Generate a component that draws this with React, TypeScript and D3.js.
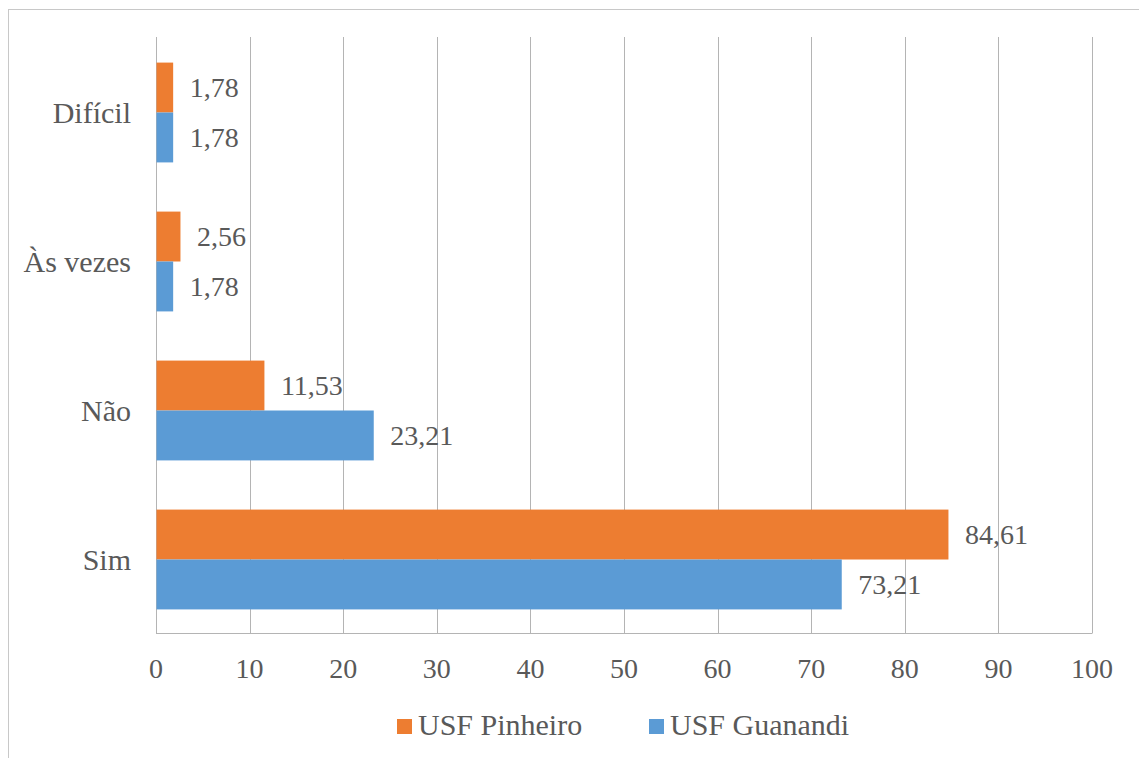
import React from "react";
import * as d3 from "d3";

const categories = ["Difícil", "Às vezes", "Não", "Sim"];
const seriesNames = ["USF Pinheiro", "USF Guanandi"];
const pinheiro = [1.78, 2.56, 11.53, 84.61];
const guanandi = [1.78, 1.78, 23.21, 73.21];
const xTicks = [0, 10, 20, 30, 40, 50, 60, 70, 80, 90, 100];
const colors = ["#ED7D31", "#5B9BD5"];

const W = 1139;
const H = 758;
const FONT = '"Liberation Serif"';
const TEXT = "#595959";
const GRID = "#B4B4B4";

export default function App() {
  const x = d3.scaleLinear().domain([0, 100]).range([156, 1092]);
  const y = d3
    .scaleBand<string>()
    .domain(categories)
    .range([38, 634])
    .paddingInner(0.33)
    .paddingOuter(0.165);
  const inner = d3
    .scaleBand<string>()
    .domain(seriesNames)
    .range([0, y.bandwidth()]);
  const series = [pinheiro, guanandi];
  const fmt = (v: number) => v.toFixed(2).replace(".", ",");
  const num = { fontFamily: FONT, fontSize: "28px", fill: TEXT } as React.CSSProperties;
  const word = { fontFamily: FONT, fontSize: "30px", fill: TEXT } as React.CSSProperties;

  return (
    <svg width={W} height={H} style={{ position: "absolute", left: 0, top: 0 }}>
      <rect x={0} y={0} width={W} height={H} fill="#fff" />
      <rect x={8.5} y={9.5} width={W + 20} height={H + 20} fill="none" stroke="#C8C8C8" strokeWidth={1} />
      {xTicks.map((t) => (
        <line key={t} x1={Math.round(x(t)) + 0.5} x2={Math.round(x(t)) + 0.5} y1={37} y2={633} stroke={GRID} strokeWidth={1} />
      ))}
      <line x1={156} x2={1092.5} y1={633.5} y2={633.5} stroke={GRID} strokeWidth={1} />
      {categories.map((c, i) =>
        series.map((s, k) => {
          const y0 = (y(c) as number) + (inner(seriesNames[k]) as number);
          const bh = inner.bandwidth();
          return (
            <g key={c + k}>
              <rect x={x(0) + 0.5} y={y0} width={x(s[i]) - x(0)} height={bh} fill={colors[k]} />
              <text x={x(s[i]) + 17} y={y0 + bh / 2} dy="0.35em" style={num}>
                {fmt(s[i])}
              </text>
            </g>
          );
        })
      )}
      {categories.map((c) => (
        <text key={c} x={131} y={(y(c) as number) + y.bandwidth() / 2} dy="0.35em" textAnchor="end" style={word}>
          {c}
        </text>
      ))}
      {xTicks.map((t) => (
        <text key={t} x={x(t)} y={678} textAnchor="middle" style={num}>
          {t}
        </text>
      ))}
      {seriesNames.map((n, k) => {
        const lx = [397, 649][k];
        return (
          <g key={n}>
            <rect x={lx} y={719} width={15} height={15} fill={colors[k]} />
            <text x={lx + 21} y={735} style={word}>
              {n}
            </text>
          </g>
        );
      })}
    </svg>
  );
}
